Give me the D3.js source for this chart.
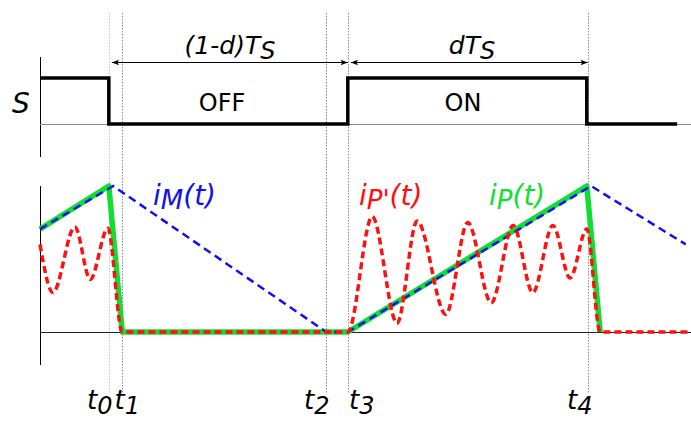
<!DOCTYPE html>
<html lang="en">
<head>
  <meta charset="UTF-8">
  <title>Switch and currents</title>
  <style>
    body { margin: 0; background: #fff; }
    text { font-family: "DejaVu Sans", Verdana, sans-serif; }
  </style>
</head>
<body>
<div id="chart"></div>
<script src="https://d3js.org/d3.v7.min.js"></script>
<script>

// time instants (arbitrary units), switching period Ts = 10, d = 0.5
const markNames = ["0", "1", "2", "3", "4"];
const markTimes = [1.44, 1.72, 5.98, 6.44, 11.46];

// switch state S (step after)
const switchT = [0, 1.44, 6.44, 11.44, 13.33];
const switchS = [1, 0, 1, 0, 0];

// magnetising current iM(t), normalised to peak
const iMT = [0, 1.53, 5.99, 6.44, 11.53, 13.51];
const iMV = [0.705, 1, 0, 0, 1, 0.6];

// primary current iP(t)
const iPT = [0, 1.44, 1.72, 6.44, 11.44, 11.72];
const iPV = [0.705, 1, 0, 0, 1, 0];

// ringing current iP'(t)
const iRT = [0, 0.27, 0.73, 1.05, 1.42, 1.72, 6.44, 6.95, 7.47, 7.89, 8.49, 8.95,
             9.44, 9.9, 10.31, 10.73, 11.09, 11.44, 11.72, 13.62];
const iRV = [0.6, 0.27, 0.72, 0.36, 0.71, 0, 0, 0.79, 0.06, 0.76, 0.12, 0.75,
             0.2, 0.73, 0.27, 0.73, 0.37, 0.705, 0, 0];

const width = 691, height = 421;

const svg = d3.select("#chart").append("svg")
  .attr("width", width)
  .attr("height", height);

const x = d3.scaleLinear().domain([0, 13.62]).range([40, 691]);
const yS = d3.scaleLinear().domain([0, 1]).range([124, 78]);
const yI = d3.scaleLinear().domain([0, 1]).range([332, 186]);

const green = "#11dd33", blue = "#1010f0", red = "#ff1010";

// arrow marker
const defs = svg.append("defs");
["start", "end"].forEach(k => {
  defs.append("marker")
    .attr("id", "arr-" + k)
    .attr("viewBox", "-10 -5 10 10")
    .attr("refX", 0).attr("refY", 0)
    .attr("markerWidth", 10).attr("markerHeight", 8)
    .attr("markerUnits", "userSpaceOnUse")
    .attr("orient", k === "end" ? "auto" : "auto-start-reverse")
    .append("path")
    .attr("d", "M-9,-3.5 L0,0 L-9,3.5 L-7,0 Z")
    .attr("fill", "#000");
});

// dotted time marks
svg.selectAll(".mark")
  .data(markTimes)
  .enter().append("line")
  .attr("class", "mark")
  .attr("x1", d => Math.round(x(d)) + 0.5).attr("x2", d => Math.round(x(d)) + 0.5)
  .attr("y1", 13).attr("y2", 393)
  .attr("stroke", (d, i) => i === 0 ? "#c4c4c4" : "#8a8a8a")
  .attr("stroke-width", 1)
  .attr("stroke-dasharray", "1.5,1.5");

// axes
svg.append("line")
  .attr("x1", 40.5).attr("x2", 40.5).attr("y1", 57).attr("y2", 157)
  .attr("stroke", "#000").attr("stroke-width", 1);
svg.append("line")
  .attr("x1", 40).attr("x2", 691).attr("y1", yS(0) + 0.5).attr("y2", yS(0) + 0.5)
  .attr("stroke", "#888").attr("stroke-width", 1);
svg.append("line")
  .attr("x1", 40.5).attr("x2", 40.5).attr("y1", 186).attr("y2", 365)
  .attr("stroke", "#000").attr("stroke-width", 1);
svg.append("line")
  .attr("x1", 40).attr("x2", 691).attr("y1", yI(0) + 0.5).attr("y2", yI(0) + 0.5)
  .attr("stroke", "#222").attr("stroke-width", 1);

// switch waveform
const sLine = d3.line().x(d => x(d[0])).y(d => yS(d[1])).curve(d3.curveStepAfter);
svg.append("path")
  .attr("d", sLine(d3.zip(switchT, switchS)))
  .attr("fill", "none").attr("stroke", "#000").attr("stroke-width", 3.5);

// interval arrows
const arrows = [[markTimes[0], markTimes[3], "(1-d)T", 230], [markTimes[3], markTimes[4], "dT", 472]];
arrows.forEach(a => {
  svg.append("line")
    .attr("x1", x(a[0]) + 3).attr("x2", x(a[1]))
    .attr("y1", 62.5).attr("y2", 62.5)
    .attr("stroke", "#000").attr("stroke-width", 1)
    .attr("marker-start", "url(#arr-start)")
    .attr("marker-end", "url(#arr-end)");
  const t = svg.append("text")
    .attr("x", a[3]).attr("y", 54)
    .attr("text-anchor", "middle")
    .style("font-style", "italic").style("font-size", "25px");
  t.append("tspan").text(a[2]);
  t.append("tspan").attr("dy", 5).style("font-size", "24px").text("S");
});

svg.append("text").attr("x", 222).attr("y", 111).attr("text-anchor", "middle")
  .style("font-size", "24px").text("OFF");
svg.append("text").attr("x", 463).attr("y", 111).attr("text-anchor", "middle")
  .style("font-size", "24px").text("ON");
svg.append("text").attr("x", 12).attr("y", 113)
  .style("font-style", "italic").style("font-size", "28px").text("S");

// currents
const iLine = d3.line().x(d => x(d[0])).y(d => yI(d[1]));

svg.append("path")
  .attr("d", iLine(d3.zip(iPT, iPV)))
  .attr("fill", "none").attr("stroke", green).attr("stroke-width", 5.5)
  .attr("stroke-linejoin", "round");

svg.append("path")
  .attr("d", iLine(d3.zip(iMT, iMV)))
  .attr("fill", "none").attr("stroke", blue).attr("stroke-width", 2.5)
  .attr("stroke-dasharray", "8,5");

svg.append("path")
  .attr("d", iLine.curve(d3.curveMonotoneX)(d3.zip(iRT, iRV)))
  .attr("fill", "none").attr("stroke", red).attr("stroke-width", 3.5)
  .attr("stroke-dasharray", "7,4");

// current labels
function currentLabel(px, sub, color) {
  const t = svg.append("text")
    .attr("x", px).attr("y", 205)
    .attr("fill", color)
    .style("font-style", "italic").style("font-size", "28px");
  t.append("tspan").text("i");
  t.append("tspan").attr("dy", 4).style("font-size", "26px").text(sub);
  t.append("tspan").attr("dy", -4).text("(t)");
}
currentLabel(153, "M", blue);
currentLabel(359, "P'", red);
currentLabel(489, "P", green);

// time labels
const labelDx = [-9, 5, -9, 14, -8];
markTimes.forEach((m, i) => {
  const t = svg.append("text")
    .attr("x", x(m) + labelDx[i]).attr("y", 409)
    .attr("text-anchor", "middle")
    .style("font-style", "italic").style("font-size", "26px");
  t.append("tspan").text("t");
  t.append("tspan").attr("dy", 5).style("font-size", "24px").text(markNames[i]);
});
</script>
</body>
</html>
